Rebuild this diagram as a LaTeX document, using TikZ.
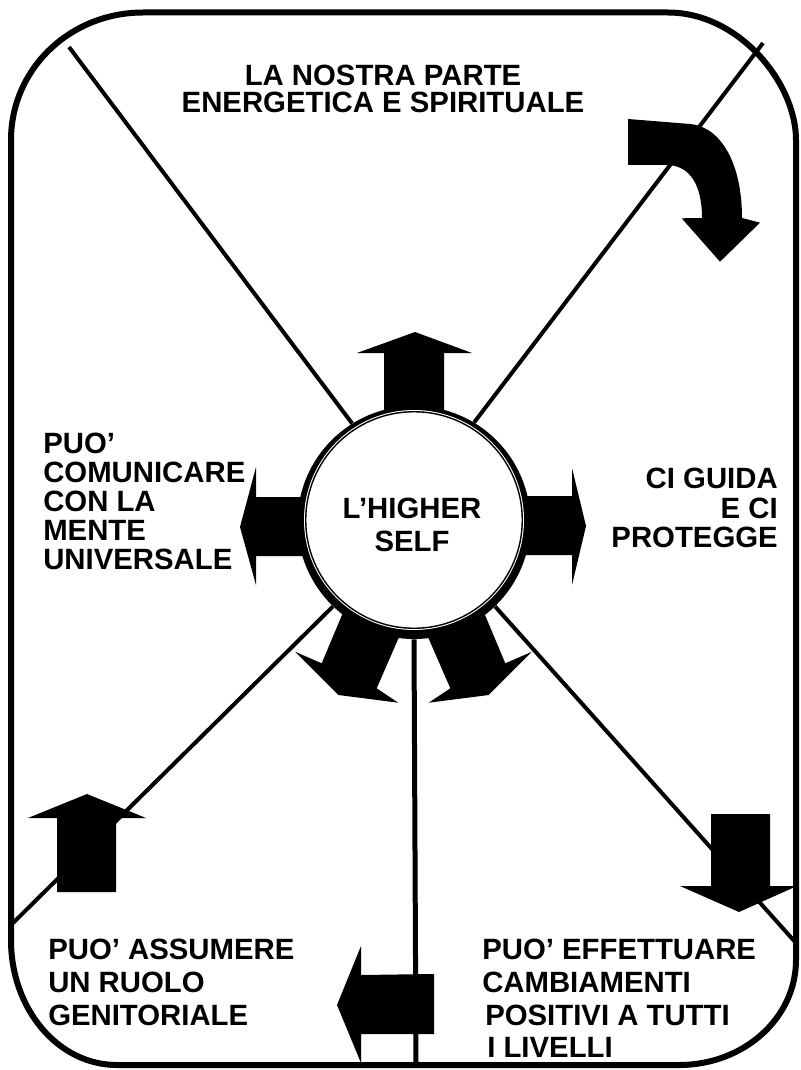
\documentclass[tikz,border=0pt]{standalone}
\usepackage{fontspec}
\setmainfont{Liberation Sans}
\begin{document}
\begin{tikzpicture}[x=0.75pt,y=-0.75pt,
  frame/.style={line width=4.5pt, line join=round},
  ray/.style={line width=3pt},
  stem/.style={line width=3.75pt},
  blockarrow/.style={fill=black},
  disc/.style={circle, fill=black, inner sep=0pt, minimum size=174.75pt},
  halo/.style={circle, fill=white, inner sep=0pt, minimum size=165pt},
  core/.style={circle, fill=white, draw=black, line width=1.05pt, inner sep=0pt, minimum size=162.4pt},
  caption/.style={inner sep=0pt, font=\bfseries\fontsize{22}{#1}\selectfont},
]
\useasboundingbox (0,0) rectangle (800,1070);

% rounded outer frame
\draw[frame] (11,140) .. controls (11,69) and (70,12.5) .. (143,12.5)
  -- (668,12.5) .. controls (739,12.5) and (796,83) .. (796,140)
  -- (796,960) .. controls (796,1018) and (744,1065) .. (679,1065)
  -- (117,1065) .. controls (58,1065) and (11,1009) .. (11,940) -- cycle;

% block arrows around the centre
\fill[blockarrow] (384,440) -- (384,353) -- (357,353) -- (415,332) -- (472,353) -- (444,353) -- (444,440) -- cycle;
\fill[blockarrow] (480,496) -- (572,496) -- (572,468) -- (586,526) -- (572,585) -- (572,555) -- (480,555) -- cycle;
\fill[blockarrow] (350,497) -- (256,497) -- (256,467) -- (240,527) -- (256,585) -- (256,556) -- (350,556) -- cycle;
\fill[blockarrow] (360.4,571.1) -- (321.7,663.3) -- (295,651.7) -- (338.3,695) -- (398.3,702.7) -- (376.7,688.3) -- (413.8,603.1) -- cycle;
\fill[blockarrow] (466.6,571.1) -- (505.3,663.3) -- (532,651.7) -- (488.7,695) -- (428.7,702.7) -- (450.3,688.3) -- (413.2,603.1) -- cycle;

% the Higher Self circle
\node[disc] (hs) at (414,522.5) {};
\node[halo] (hw) at (414,520) {};
\node[core] (hc) at (414,520) {};
\node[caption=24.75, align=center] (hname) at (412,525) {L’HIGHER\\SELF};

% free ends of the dividing lines
\coordinate (ulEnd) at (69,47);
\coordinate (urEnd) at (763,43);
\coordinate (llEnd) at (13,923);
\coordinate (lrEnd) at (796,943);
\coordinate (bEnd) at (416,1063);

\draw[ray] (hs.122) -- (ulEnd);
\draw[ray] (hs.59) -- (urEnd);
\draw[ray] (hs.226) -- (llEnd);
\draw[ray] (hs.314) -- (lrEnd);
\draw[stem] (hs.south) -- (bEnd);

% curved arrow, top right
\fill[blockarrow] (628,119) -- (690,124) .. controls (722,127) and (742,165) .. (742,218)
  -- (760,222.7) -- (720,261.7) -- (681.7,218.3) -- (702,218)
  .. controls (702,185) and (690,166) .. (668,165) -- (628,165) -- cycle;

% outer block arrows
\fill[blockarrow] (57,892) -- (57,818) -- (28,818) -- (87,794) -- (146,818) -- (116,818) -- (116,892) -- cycle;
\fill[blockarrow] (711,814) -- (770,814) -- (770,886) -- (797,886) -- (739,912) -- (680,886) -- (711,886) -- cycle;
\fill[blockarrow] (434,974) -- (361,975) -- (361,946) -- (337,1005) -- (361,1063) -- (361,1034) -- (434,1034) -- cycle;

% captions
\node[caption=20.25, anchor=north, align=center] (spirit) at (383,65) {LA NOSTRA PARTE\\ENERGETICA E SPIRITUALE};
\node[caption=21.75, anchor=north west, align=left] (comm) at (43,433) {PUO’\\COMUNICARE\\CON LA\\MENTE\\UNIVERSALE};
\node[caption=22.1, anchor=north east, align=right] (guide) at (778,468) {CI GUIDA\\E CI\\PROTEGGE};
\node[caption=24.75, anchor=north west, align=left] (parent) at (48,939) {PUO’ ASSUMERE\\UN RUOLO\\GENITORIALE};
\node[caption=24.5, anchor=north west, align=left] (change) at (482,939) {PUO’ EFFETTUARE\\CAMBIAMENTI\\\hspace*{2.25pt}POSITIVI A TUTTI\\\hspace*{3.75pt}I LIVELLI};
\end{tikzpicture}
\end{document}
